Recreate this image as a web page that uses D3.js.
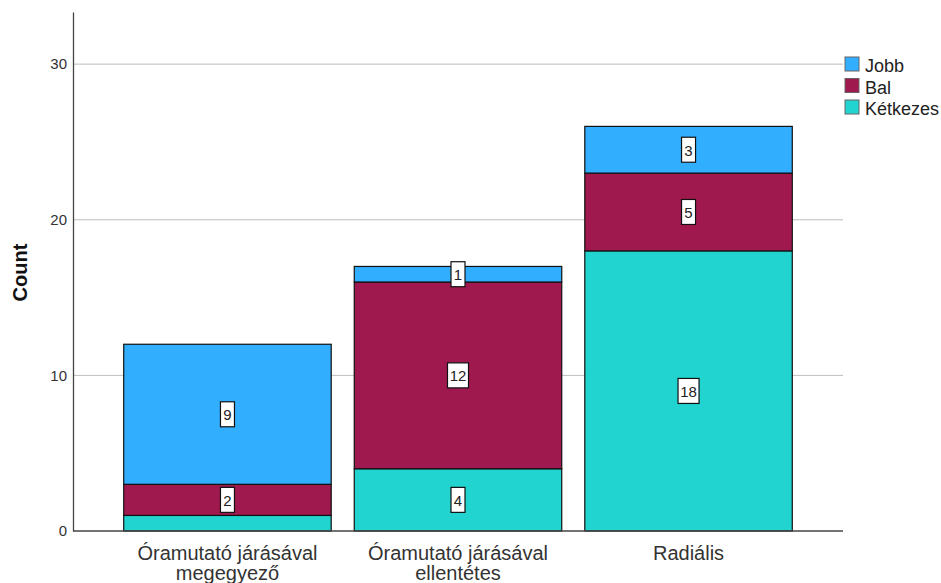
<!DOCTYPE html>
<html>
<head>
<meta charset="utf-8">
<script src="https://cdn.jsdelivr.net/npm/d3@7"></script>
<style>
  body { margin: 0; background: #fff; }
  text { font-family: Arial, "Liberation Sans", sans-serif; }
</style>
</head>
<body>
<svg id="chart"></svg>
<script>
const categories = [
  ["Óramutató járásával", "megegyező"],
  ["Óramutató járásával", "ellentétes"],
  ["Radiális"],
];
const seriesNames = ["Kétkezes", "Bal", "Jobb"];
const ketkezes = [1, 4, 18];
const bal = [2, 12, 5];
const jobb = [9, 1, 3];
const yTicks = [0, 10, 20, 30];
const colors = { Jobb: "#31aefe", Bal: "#a0194e", Kétkezes: "#22d4d0" };

const width = 941;
const height = 583;
const margin = { top: 12, right: 98, bottom: 52, left: 73 };

const svg = d3.select("#chart").attr("width", width).attr("height", height);

const xscale = d3
  .scaleBand()
  .domain(d3.range(categories.length))
  .range([margin.left, width - margin.right])
  .paddingInner(0.1)
  .paddingOuter(0.22);

const yscale = d3
  .scaleLinear()
  .domain([0, 33.35])
  .range([height - margin.bottom, margin.top]);

// gridlines
svg
  .append("g")
  .selectAll("line")
  .data(yTicks.filter((d) => d > 0))
  .join("line")
  .attr("x1", margin.left)
  .attr("x2", width - margin.right)
  .attr("y1", (d) => yscale(d))
  .attr("y2", (d) => yscale(d))
  .attr("stroke", "#bdbdbd")
  .attr("stroke-width", 1);

// stacked data
const table = categories.map((c, i) => ({
  idx: i,
  Kétkezes: ketkezes[i],
  Bal: bal[i],
  Jobb: jobb[i],
}));
const stack = d3.stack().keys(seriesNames)(table);

const layers = svg
  .append("g")
  .selectAll("g")
  .data(stack)
  .join("g")
  .attr("fill", (d) => colors[d.key]);

layers
  .selectAll("rect")
  .data((d) => d)
  .join("rect")
  .attr("x", (d) => xscale(d.data.idx))
  .attr("width", xscale.bandwidth())
  .attr("y", (d) => yscale(d[1]))
  .attr("height", (d) => yscale(d[0]) - yscale(d[1]))
  .attr("stroke", "#111")
  .attr("stroke-width", 1.2);

// value labels (hidden when the box would run under the axis)
const boxH = 25;
const labels = svg.append("g");
stack.forEach((layer) => {
  layer.forEach((d) => {
    const v = d[1] - d[0];
    const cx = xscale(d.data.idx) + xscale.bandwidth() / 2;
    const cy = (yscale(d[0]) + yscale(d[1])) / 2;
    if (cy + boxH / 2 > yscale(0)) return;
    const txt = String(v);
    const boxW = txt.length === 1 ? 14 : 21;
    labels
      .append("rect")
      .attr("x", cx - boxW / 2)
      .attr("y", cy - boxH / 2)
      .attr("width", boxW)
      .attr("height", boxH)
      .attr("fill", "#fff")
      .attr("stroke", "#111")
      .attr("stroke-width", 1.2);
    labels
      .append("text")
      .attr("x", cx)
      .attr("y", cy + 6)
      .attr("text-anchor", "middle")
      .style("font-size", "15px")
      .attr("fill", "#222")
      .text(txt);
  });
});

// axes
const xaxisGroup = svg
  .append("g")
  .attr("transform", `translate(0, ${height - margin.bottom})`);
xaxisGroup
  .append("line")
  .attr("x1", margin.left)
  .attr("x2", width - margin.right)
  .attr("stroke", "#444")
  .attr("stroke-width", 1.3);
xaxisGroup
  .selectAll("text")
  .data(categories)
  .join("text")
  .attr("x", (d, i) => xscale(i) + xscale.bandwidth() / 2)
  .attr("y", 29)
  .attr("text-anchor", "middle")
  .style("font-size", "20px")
  .attr("fill", "#333")
  .selectAll("tspan")
  .data((d) => d)
  .join("tspan")
  .attr("x", function () {
    return this.parentNode.getAttribute("x");
  })
  .attr("dy", (d, i) => (i === 0 ? 0 : 20))
  .text((d) => d);

const yaxis = d3.axisLeft(yscale).tickValues(yTicks).tickSize(0).tickPadding(6);
const yaxisGroup = svg
  .append("g")
  .attr("transform", `translate(${margin.left}, 0)`)
  .call(yaxis);
yaxisGroup.select(".domain").attr("stroke", "#444").attr("stroke-width", 1.3);
yaxisGroup
  .selectAll("text")
  .style("font-size", "15px")
  .style("font-family", "Arial, 'Liberation Sans', sans-serif")
  .attr("fill", "#333");

svg
  .append("text")
  .attr("transform", `translate(27, ${(margin.top + height - margin.bottom) / 2 + 1}) rotate(-90)`)
  .attr("text-anchor", "middle")
  .style("font-size", "20px")
  .attr("font-weight", "bold")
  .attr("fill", "#111")
  .text("Count");

// legend
const legendKeys = ["Jobb", "Bal", "Kétkezes"];
const legend = svg
  .append("g")
  .attr("transform", `translate(${width - margin.right + 2}, 57)`);
legendKeys.forEach((k, i) => {
  legend
    .append("rect")
    .attr("x", 0)
    .attr("y", i * 21.5)
    .attr("width", 14)
    .attr("height", 14)
    .attr("fill", colors[k])
    .attr("stroke", "#666")
    .attr("stroke-width", 1);
  legend
    .append("text")
    .attr("x", 20)
    .attr("y", i * 21.5 + 15)
    .style("font-size", "18px")
    .attr("fill", "#222")
    .text(k);
});
</script>
</body>
</html>
